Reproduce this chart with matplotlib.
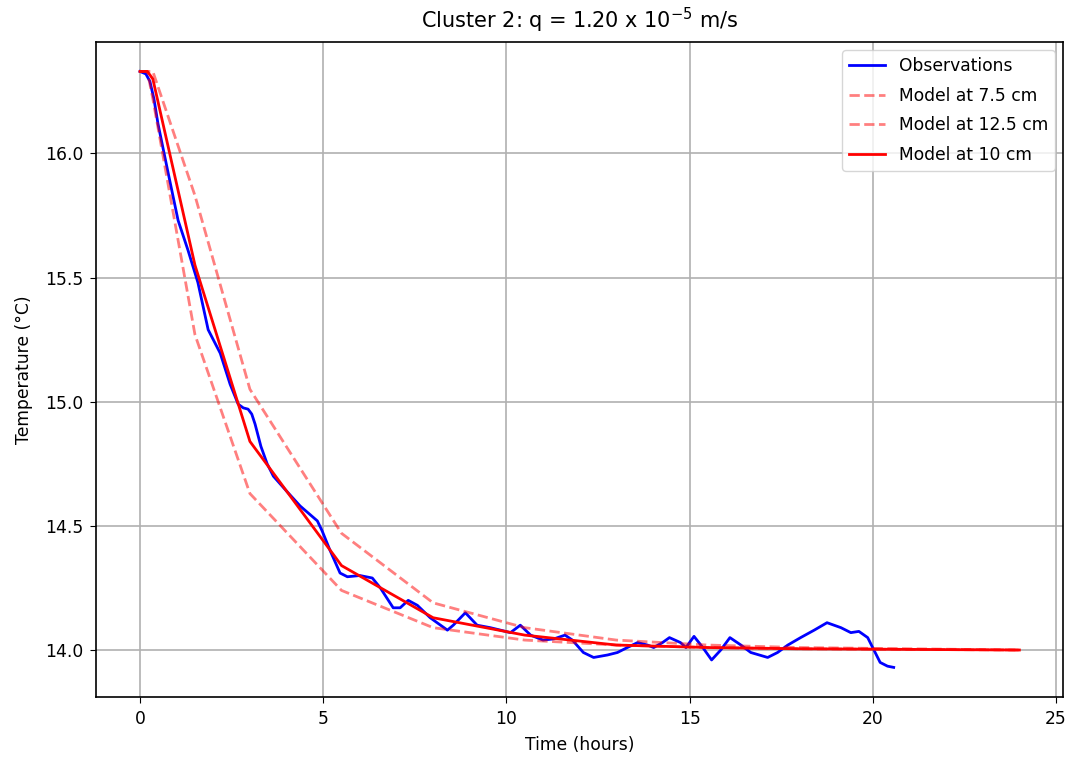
import matplotlib
matplotlib.use("Agg")
import matplotlib.pyplot as plt

# Observations (hours, °C)
obs_t = [0.0, 0.16, 0.27, 0.38, 0.49, 0.77, 1.04, 1.31, 1.58, 1.86, 2.19, 2.46, 2.68, 2.82,
         2.95, 3.05, 3.14, 3.3, 3.47, 3.64, 4.0, 4.37, 4.84, 4.97, 5.19, 5.46, 5.66, 6.0, 6.34,
         6.56, 6.91, 7.10, 7.32, 7.57, 7.92, 8.39, 8.55, 8.88, 9.2, 9.56, 9.84, 10.11, 10.38,
         10.66, 11.0, 11.3, 11.6, 11.8, 12.1, 12.38, 12.76, 13.03, 13.3, 13.58, 13.85, 14.02,
         14.26, 14.45, 14.75, 14.9, 15.12, 15.36, 15.6, 15.85, 16.1, 16.4, 16.67, 17.13, 17.4,
         17.68, 18.03, 18.4, 18.75, 19.13, 19.4, 19.62, 19.86, 20.03, 20.2, 20.4, 20.57]
obs_T = [16.33, 16.32, 16.29, 16.22, 16.12, 15.92, 15.73, 15.61, 15.48, 15.29, 15.195, 15.07,
         14.99, 14.975, 14.97, 14.95, 14.91, 14.82, 14.75, 14.70, 14.64, 14.58, 14.52, 14.48,
         14.40, 14.31, 14.295, 14.30, 14.29, 14.25, 14.17, 14.17, 14.20, 14.18, 14.13, 14.08,
         14.10, 14.15, 14.10, 14.09, 14.08, 14.07, 14.10, 14.06, 14.04, 14.045, 14.06, 14.04,
         13.99, 13.97, 13.98, 13.99, 14.01, 14.03, 14.02, 14.01, 14.03, 14.05, 14.03, 14.01,
         14.055, 14.01, 13.96, 14.0, 14.05, 14.02, 13.99, 13.97, 13.99, 14.02, 14.05, 14.08,
         14.11, 14.09, 14.07, 14.075, 14.05, 14.0, 13.95, 13.935, 13.93]

# Model output times and temperatures
model_t = [0.0, 0.2, 0.35, 1.5, 3.0, 5.5, 8.0, 10.5, 13.0, 15.5, 18.0, 24.0]
model_75 = [16.33, 16.33, 16.22, 15.27, 14.63, 14.24, 14.09, 14.04, 14.02, 14.01, 14.005, 14.0]
model_125 = [16.33, 16.33, 16.33, 15.83, 15.05, 14.47, 14.19, 14.09, 14.04, 14.02, 14.01, 14.0]
model_10 = [16.33, 16.33, 16.30, 15.55, 14.84, 14.34, 14.13, 14.06, 14.02, 14.01, 14.005, 14.0]

plt.rcParams["font.size"] = 12.3
plt.rcParams["xtick.major.size"] = 4.5
plt.rcParams["ytick.major.size"] = 4.5
plt.rcParams["xtick.major.pad"] = 4.5
plt.rcParams["ytick.major.pad"] = 4.5

fig = plt.figure(figsize=(10.79, 7.57), dpi=100)
ax = fig.add_axes([0.089, 0.079, 0.8965, 0.866])

ax.plot(obs_t, obs_T, color="blue", lw=2, label="Observations")
ax.plot(model_t, model_75, color="red", ls="--", alpha=0.5, lw=2, label="Model at 7.5 cm")
ax.plot(model_t, model_125, color="red", ls="--", alpha=0.5, lw=2, label="Model at 12.5 cm")
ax.plot(model_t, model_10, color="red", lw=2, label="Model at 10 cm")

ax.set_title(r"Cluster 2: q = 1.20 x 10$^{-5}$ m/s", fontsize=15, pad=10)
ax.set_xlabel("Time (hours)", labelpad=6)
ax.set_ylabel("Temperature (°C)", labelpad=9)
ax.set_yticks([14.0, 14.5, 15.0, 15.5, 16.0])
ax.grid(True, lw=1.2)
for s in ax.spines.values():
    s.set_linewidth(1.2)
ax.legend(loc="upper right", labelspacing=0.68, handlelength=2.1)

fig.savefig("out.png", dpi=100)
